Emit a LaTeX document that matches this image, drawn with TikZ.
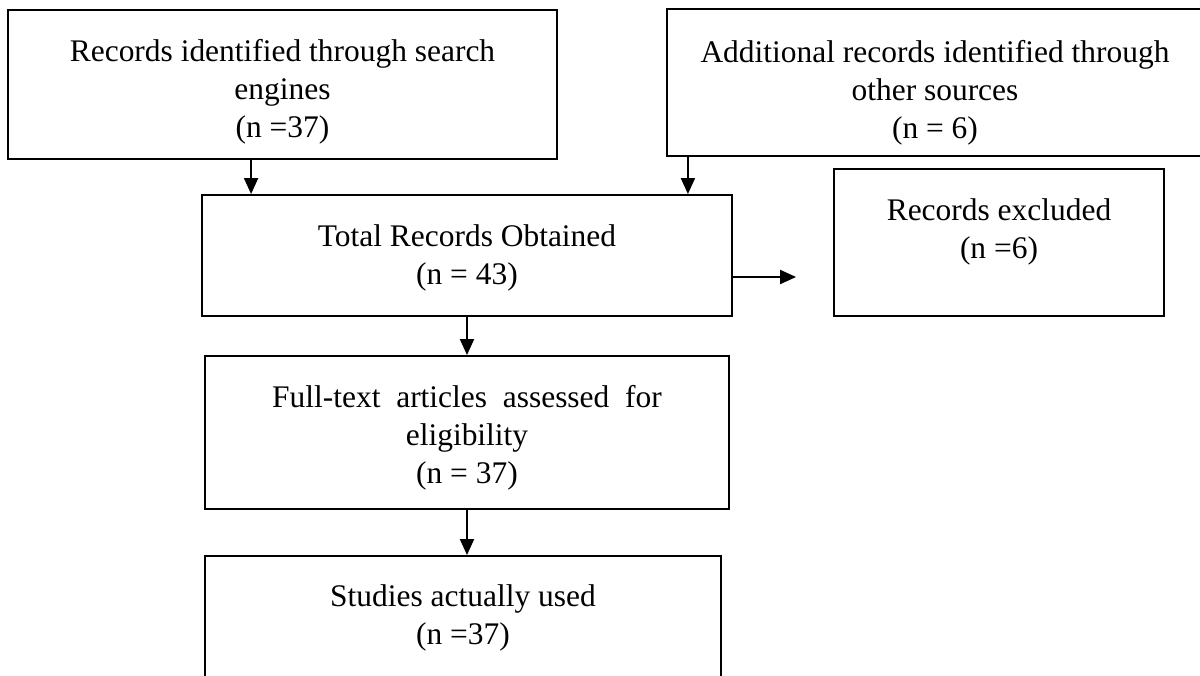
\documentclass[tikz,border=0pt]{standalone}
\usepackage{fontspec}
\setmainfont{Liberation Serif}
\usetikzlibrary{
    arrows.meta,
    positioning
}
\tikzset {
    box/.style = {draw, line width = 1.1pt, inner sep = 0pt},
    boxtext/.style = {
        align = center,
        inner sep = 0pt,
        font = \fontsize{17.9}{21.6}\selectfont
    },
    arrowed/.style = {
        line width = 1.1pt,
        -{Triangle[length = 0.32cm, width = 0.28cm]}
    }
}

\begin{document}
\begin{tikzpicture}[x = 0.02cm, y = -0.02cm]
    \useasboundingbox (0, 0) rectangle (1200, 676);
    % boxes
    \node (rec) [box, minimum width = 10.98cm, minimum height = 2.98cm] at (282.5, 84.5) {};
    \node (add) [box, minimum width = 10.78cm, minimum height = 2.94cm] at (936.5, 82.5) {};
    \node (tot) [box, minimum width = 10.6cm, minimum height = 2.42cm] at (467, 255.5) {};
    \node (exc) [box, minimum width = 6.6cm, minimum height = 2.94cm] at (999, 242.5) {};
    \node (full) [box, minimum width = 10.48cm, minimum height = 3.06cm] at (467, 432.5) {};
    \node (used) [box, minimum width = 10.32cm, minimum height = 2.68cm] at (463, 623) {};
    % texts
    \node (rect) [boxtext, below = 0.6cm of rec.north] {Records identified through search\\engines\\(n =37)};
    \node (addt) [boxtext, below = 0.64cm of add.north, xshift = -0.03cm] {Additional records identified through\\other sources\\(n = 6)};
    \node (tott) [boxtext, below = 0.6cm of tot.north] {Total Records Obtained\\(n = 43)};
    \node (exct) [boxtext, below = 0.6cm of exc.north] {Records excluded\\(n =6)};
    \node (fullt) [boxtext, below = 0.6cm of full.north] {Full-text\ \ articles\ \ assessed\ \ for\\eligibility\\(n = 37)};
    \node (usedt) [boxtext, below = 0.58cm of used.north] {Studies actually used\\(n =37)};
    % connectors
    \coordinate (in1) at ([xshift = 1cm]tot.north west);
    \coordinate (in2) at ([xshift = -0.9cm]tot.north east);
    \coordinate (out) at ([yshift = -0.43cm]tot.east);
    \coordinate (outend) at ([xshift = -0.74cm]exc.west |- out);
    \draw [arrowed] (rec.south -| in1) -- (in1);
    \draw [arrowed] (add.south -| in2) -- (in2);
    \draw [arrowed] (out) -- (outend);
    \draw [arrowed] (tot.south) -- (full.north);
    \draw [arrowed] (full.south) -- (full.south |- used.north);
\end{tikzpicture}
\end{document}
